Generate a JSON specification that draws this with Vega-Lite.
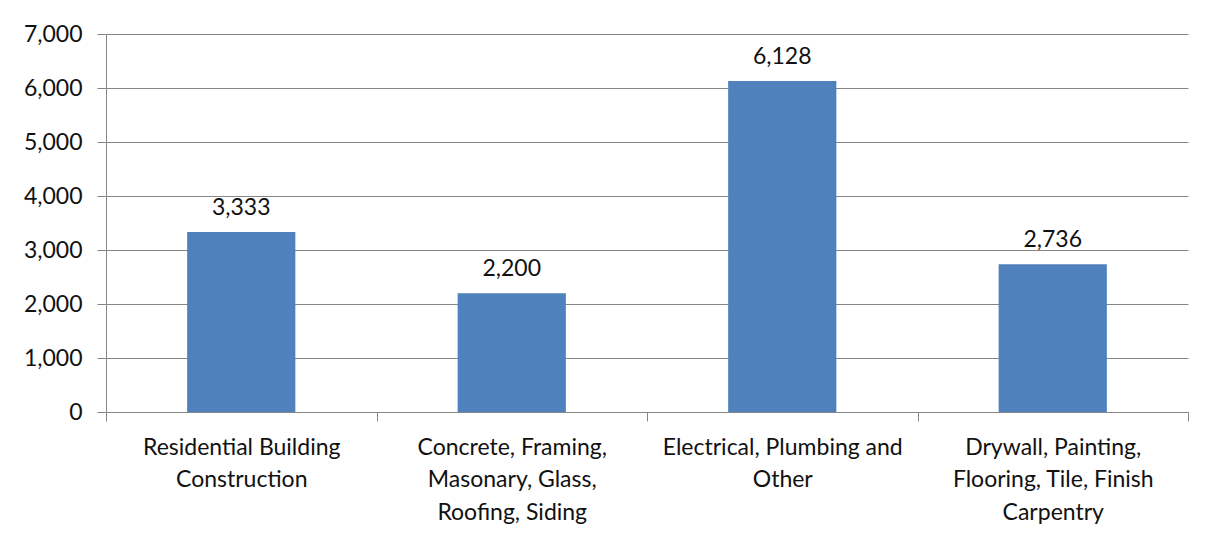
{
  "$schema": "https://vega.github.io/schema/vega-lite/v6.json",
  "width": 1082,
  "height": 378,
  "autosize": {"type": "none"},
  "padding": {"left": 106, "top": 34, "right": 25, "bottom": 128},
  "background": "#ffffff",
  "config": {
    "view": {"stroke": null},
    "font": "Lato",
    "axis": {
      "labelFont": "Lato",
      "labelFontSize": 23,
      "labelColor": "#111111",
      "domainColor": "#868686",
      "tickColor": "#868686",
      "gridColor": "#868686",
      "title": null
    }
  },
  "data": {
    "values": [
      {"category": "Residential Building Construction", "jobs": 3333},
      {"category": "Concrete, Framing, Masonary, Glass, Roofing, Siding", "jobs": 2200},
      {"category": "Electrical, Plumbing and Other", "jobs": 6128},
      {"category": "Drywall, Painting, Flooring, Tile, Finish Carpentry", "jobs": 2736}
    ]
  },
  "encoding": {
    "x": {
      "field": "category",
      "type": "nominal",
      "sort": null,
      "scale": {"paddingInner": 0, "paddingOuter": 0},
      "axis": {
        "labelAngle": 0,
        "tickBand": "extent",
        "tickSize": 9,
        "labelPadding": 15,
        "labelBaseline": "top",
        "labelLineHeight": 32.5,
        "labelLimit": 0,
        "grid": false,
        "labelExpr": "({'Residential Building Construction': ['Residential Building', 'Construction'], 'Concrete, Framing, Masonary, Glass, Roofing, Siding': ['Concrete, Framing,', 'Masonary, Glass,', 'Roofing, Siding'], 'Electrical, Plumbing and Other': ['Electrical, Plumbing and', 'Other'], 'Drywall, Painting, Flooring, Tile, Finish Carpentry': ['Drywall, Painting,', 'Flooring, Tile, Finish', 'Carpentry']})[datum.value]"
      }
    },
    "y": {
      "field": "jobs",
      "type": "quantitative",
      "scale": {"domain": [0, 7000], "nice": false},
      "axis": {
        "values": [0, 1000, 2000, 3000, 4000, 5000, 6000, 7000],
        "format": ",d",
        "tickSize": 9,
        "labelPadding": 15,
        "grid": true,
        "domain": true
      }
    }
  },
  "layer": [
    {
      "mark": {"type": "bar", "color": "#4F81BD", "width": {"band": 0.4}}
    },
    {
      "mark": {"type": "text", "fontSize": 23, "font": "Lato", "color": "#111111", "baseline": "alphabetic", "dy": -17},
      "encoding": {
        "text": {"field": "jobs", "type": "quantitative", "format": ",d"}
      }
    }
  ]
}
